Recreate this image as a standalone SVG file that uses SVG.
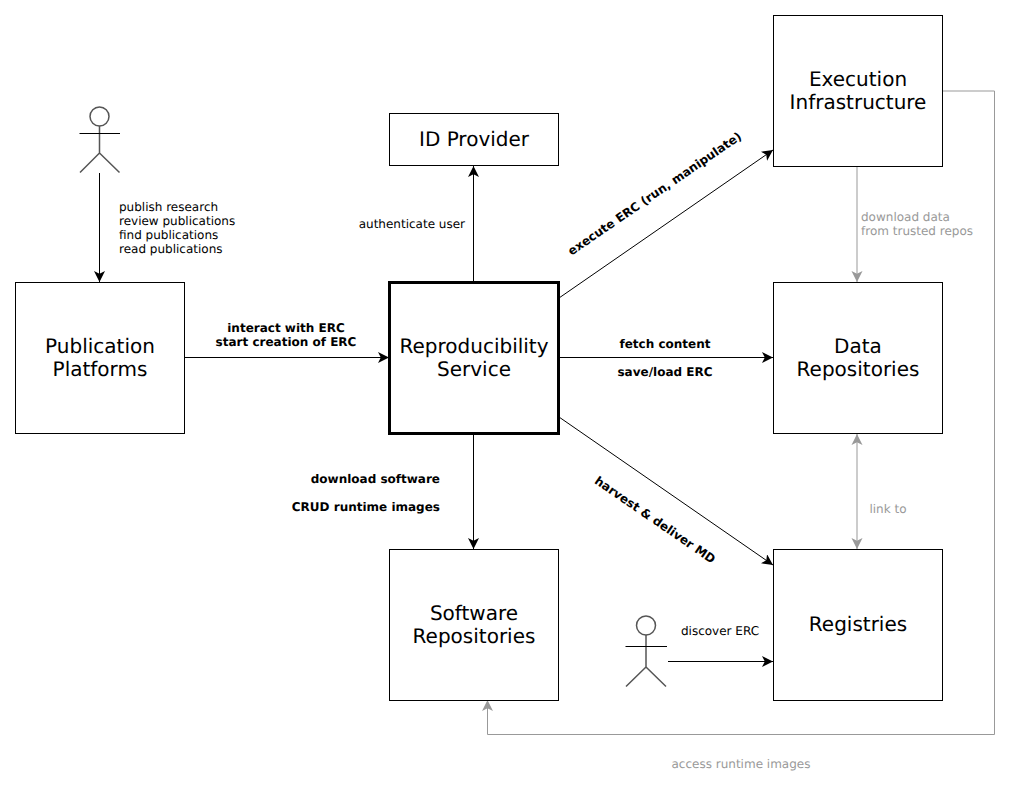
<svg xmlns="http://www.w3.org/2000/svg" width="1010" height="788" viewBox="0 0 1010 788">
<style>
text{font-family:"DejaVu Sans",sans-serif;text-rendering:geometricPrecision}
.box{fill:#fff;stroke:#000;stroke-width:1}
.t{font-size:20px;text-anchor:middle;fill:#000}
.l{font-size:12px;fill:#000}
.b{font-size:12px;font-weight:bold;fill:#000}
.g{font-size:12px;fill:#999}
.m{text-anchor:middle}
.e{text-anchor:end}
.k{fill:none;stroke:#000;stroke-width:1;marker-end:url(#ak)}
.y{fill:none;stroke:#999;stroke-width:1;marker-end:url(#ag)}
.a{fill:none;stroke:#555;stroke-width:1.5}
</style>
<defs>
<marker id="ak" markerUnits="userSpaceOnUse" markerWidth="12" markerHeight="12" refX="11" refY="5.500" viewBox="0 0 12 12" orient="auto"><path d="M0 0L11 5.500L0 11L2.800 5.500Z" fill="#000"/></marker>
<marker id="ag" markerUnits="userSpaceOnUse" markerWidth="12" markerHeight="12" refX="11" refY="5.500" viewBox="0 0 12 12" orient="auto"><path d="M0 0L11 5.500L0 11L2.800 5.500Z" fill="#999"/></marker>
<marker id="ags" markerUnits="userSpaceOnUse" markerWidth="12" markerHeight="12" refX="0" refY="5.500" viewBox="0 0 12 12" orient="auto"><path d="M11 0L0 5.500L11 11L8.200 5.500Z" fill="#999"/></marker>
</defs>
<rect width="1010" height="788" fill="#fff"/>
<g id="connectors">
<path class="k" d="M99.500 173V282"/>
<path class="k" d="M185 357.500H389"/>
<path class="k" d="M473.500 282V166"/>
<path class="k" d="M473.500 434V549"/>
<path class="k" d="M559 357.500H773"/>
<path class="k" d="M559 298L773 150"/>
<path class="k" d="M559 417L773 565"/>
<path class="k" d="M668 661.500H773"/>
<path class="y" d="M857 166V282"/>
<path class="y" d="M857 434V549" marker-start="url(#ags)"/>
<path class="y" d="M943 91H994.500V734.500H487.500V700"/>
</g>
<g id="labels">
<text class="l" x="119" y="211">publish research</text>
<text class="l" x="119" y="225">review publications</text>
<text class="l" x="119" y="239">find publications</text>
<text class="l" x="119" y="253">read publications</text>
<text class="b m" x="286" y="332">interact with ERC</text>
<text class="b m" x="286" y="346">start creation of ERC</text>
<text class="l e" x="465" y="228">authenticate user</text>
<text class="b m" x="665" y="348">fetch content</text>
<text class="b m" x="665" y="376">save/load ERC</text>
<text class="b e" x="440" y="483">download software</text>
<text class="b e" x="440" y="511">CRUD runtime images</text>
<text class="b m" transform="translate(657 197) rotate(-34.500)">execute ERC (run, manipulate)</text>
<text class="b m" transform="translate(655 520) rotate(34.500)" y="4">harvest &amp; deliver MD</text>
<text class="g" x="861" y="221">download data</text>
<text class="g" x="861" y="235">from trusted repos</text>
<text class="g m" x="888" y="513">link to</text>
<text class="l m" x="720" y="635">discover ERC</text>
<text class="g m" x="741" y="768">access runtime images</text>
</g>
<g id="actor1"><circle class="a" cx="99.500" cy="116.500" r="9.500"/><path class="a" d="M99.500 126V153M80 172.500L99.500 153L119.500 172.500"/><path d="M79.500 133.500H120" stroke="#000" fill="none"/></g>
<g id="actor2"><circle class="a" cx="646" cy="625.500" r="9.500"/><path class="a" d="M646 635V667M626 686.500L646 667L666 686.500"/><path d="M625.500 646.500H667" stroke="#000" fill="none"/></g>
<g id="publication-platforms"><rect class="box" x="15.500" y="282.500" width="169" height="151"/><text class="t" x="100" y="353">Publication</text><text class="t" x="100" y="376">Platforms</text></g>
<g id="reproducibility-service"><rect class="box" x="389.500" y="282.500" width="169" height="151" style="stroke-width:3"/><text class="t" x="474" y="353">Reproducibility</text><text class="t" x="474" y="376">Service</text></g>
<g id="id-provider"><rect class="box" x="389.500" y="113.500" width="169" height="52"/><text class="t" x="474" y="146">ID Provider</text></g>
<g id="execution-infrastructure"><rect class="box" x="773.500" y="15.500" width="169" height="151"/><text class="t" x="858" y="86">Execution</text><text class="t" x="858" y="109">Infrastructure</text></g>
<g id="data-repositories"><rect class="box" x="773.500" y="282.500" width="169" height="151"/><text class="t" x="858" y="353">Data</text><text class="t" x="858" y="376">Repositories</text></g>
<g id="software-repositories"><rect class="box" x="389.500" y="549.500" width="169" height="151"/><text class="t" x="474" y="620">Software</text><text class="t" x="474" y="643">Repositories</text></g>
<g id="registries"><rect class="box" x="773.500" y="549.500" width="169" height="151"/><text class="t" x="858" y="631">Registries</text></g>
</svg>
